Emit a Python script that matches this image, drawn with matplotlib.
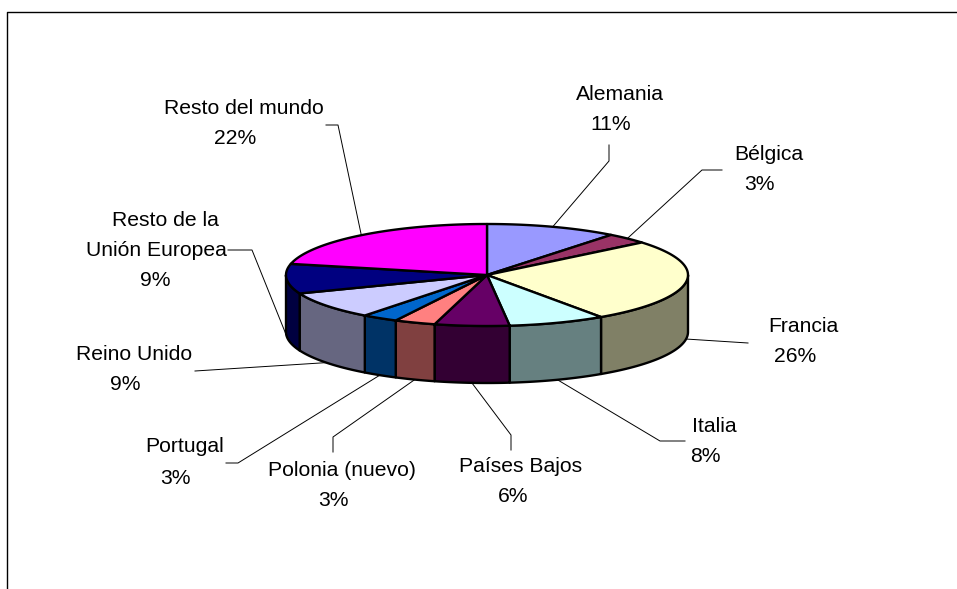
import numpy as np
import matplotlib
matplotlib.use("Agg")
import matplotlib.pyplot as plt

# === Data
names = ["Alemania", "Bélgica", "Francia", "Italia", "Países Bajos", "Polonia (nuevo)",
         "Portugal", "Reino Unido", "Unión Europea", "Resto del mundo"]
shares = [10.6, 3.4, 26.4, 7.8, 6.0, 3.3, 2.9, 8.7, 9.4, 21.5]
top_colors = ["#9999FF", "#993366", "#FFFFCC", "#CCFFFF", "#660066",
              "#FF8080", "#0066CC", "#CCCCFF", "#000080", "#FF00FF"]
side_colors = ["#666699", "#4D1A33", "#808066", "#668080", "#330033",
               "#804040", "#003366", "#666680", "#000040", "#800080"]

# === Layout, in pixels of the 957x589 picture
cx, cy, rx, ry, depth = 487, 275, 201, 51, 57
name_pos = [(620, 94), (769, 154), (803, 326), (714, 426), (521, 466),
            (342, 471), (185, 447), (134, 354), (156, 250), (244, 108)]
pct_pos = [(611, 124), (759, 184), (795, 357), (705, 456), (513, 497),
           (333, 501), (175, 478), (125, 384), (155, 281), (235, 139)]
leader_bend = [[(609, 161), (609, 145)], [(702, 170), (722, 170)], [(748, 343)],
               [(660, 441), (685, 441)], [(511, 435), (511, 450)], [(333, 437), (333, 452)],
               [(238, 463), (226, 463)], [(195, 371)], [(252, 250), (228, 250)],
               [(338, 125), (326, 125)]]


def ell(t):
    # t in degrees, clockwise from the top of the pie
    r = np.radians(t)
    return cx + rx * np.sin(r), cy - ry * np.cos(r)


plt.rcParams["font.family"] = ["Liberation Sans", "DejaVu Sans"]
fig = plt.figure(figsize=(9.57, 5.89), dpi=100)
ax = fig.add_axes([0, 0, 1, 1])
ax.set_xlim(0, 957)
ax.set_ylim(589, 0)
ax.axis("off")

# Frame: only the left and top edges fall inside the picture
ax.plot([7, 7, 957], [589, 12, 12], color="black", lw=1.0)

edges = np.concatenate([[0], np.cumsum(shares)]) * 360 / sum(shares)

# Side walls of the front half
for i in range(len(shares)):
    a, b = max(edges[i], 90), min(edges[i + 1], 270)
    if b <= a:
        continue
    t = np.linspace(a, b, 60)
    x, y = ell(t)
    ax.fill(np.r_[x, x[::-1]], np.r_[y, y[::-1] + depth],
            facecolor=side_colors[i], edgecolor="black", lw=1.7, joinstyle="round")

# Top faces
for i in range(len(shares)):
    t = np.linspace(edges[i], edges[i + 1], 80)
    x, y = ell(t)
    ax.fill(np.r_[cx, x], np.r_[cy, y],
            facecolor=top_colors[i], edgecolor="black", lw=1.7, joinstyle="round")

# Leader lines and labels
for i, name in enumerate(names):
    mid = (edges[i] + edges[i + 1]) / 2
    x0, y0 = ell(mid)
    if 90 < mid < 270:
        y0 += depth
    pts = [(x0, y0)] + leader_bend[i]
    ax.plot([p[0] for p in pts], [p[1] for p in pts], color="black", lw=0.7, zorder=1)
    ax.text(*name_pos[i], name, ha="center", va="center", fontsize=15.2)
    ax.text(*pct_pos[i], f"{round(shares[i])}%", ha="center", va="center", fontsize=15.2)

# This label wraps with an uneven offset, so its first line is placed on its own
ax.text(165, 220, "Resto de la", ha="center", va="center", fontsize=15.2)

plt.savefig("out.png", dpi=100)
